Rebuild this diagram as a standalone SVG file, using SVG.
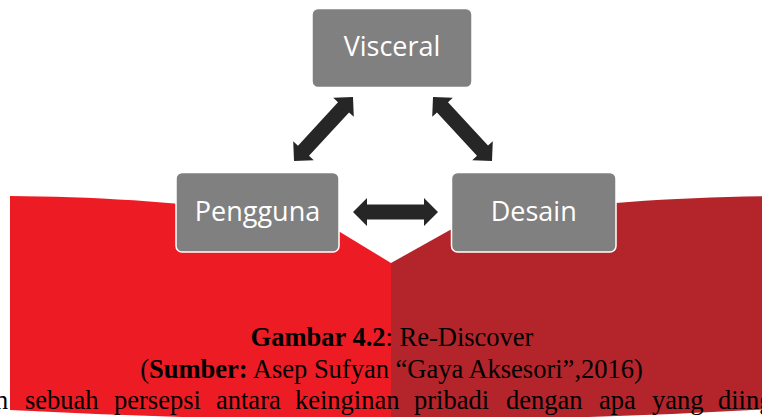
<svg xmlns="http://www.w3.org/2000/svg" width="762" height="417" viewBox="0 0 762 417">
<style>
.node rect{fill:#808080;stroke:#ffffff;stroke-width:1.5}
.node text{font-family:"Open Sans","Noto Sans",sans-serif;font-size:27px;fill:#ffffff;text-anchor:middle}
.arrow{fill:#262626}
.cap{font-family:"Liberation Serif","Times New Roman",serif;font-size:26.5px;fill:#000000}
.b{font-weight:bold}
</style>
<rect x="0" y="0" width="762" height="417" fill="#ffffff"/>
<g id="book">
<path d="M10,196 C120,197 250,205 340,232 L391,263 L391,420 Q200,420 10,410 Z" fill="#ED1C24"/>
<path d="M391,263 L450,230 C540,205 650,198 770,196 L770,409 Q580,420 391,420 Z" fill="#B4242B"/>
</g>
<g id="connectors">
<polygon class="arrow" transform="translate(353,212)" points="0,0 14,-14 14,-7.5 71,-7.5 71,-14 85,0 71,14 71,7.5 14,7.5 14,14"/>
<polygon class="arrow" transform="translate(294,161) rotate(-47.3)" points="0,0 14,-14 14,-7.5 73,-7.5 73,-14 87,0 73,14 73,7.5 14,7.5 14,14"/>
<polygon class="arrow" transform="translate(433,97) rotate(47.3)" points="0,0 14,-14 14,-7.5 73,-7.5 73,-14 87,0 73,14 73,7.5 14,7.5 14,14"/>
</g>
<g id="visceral" class="node">
<rect x="312" y="8.5" width="160" height="79" rx="6"/>
<text x="392" y="56">Visceral</text>
</g>
<g id="pengguna" class="node">
<rect x="176" y="172.5" width="163" height="79.5" rx="6"/>
<text x="257.5" y="221">Pengguna</text>
</g>
<g id="desain" class="node">
<rect x="451.5" y="172.5" width="164.5" height="79.5" rx="6"/>
<text x="533.7" y="221">Desain</text>
</g>
<g id="caption">
<text class="cap" x="392" y="345.5" text-anchor="middle"><tspan class="b">Gambar 4.2</tspan>: Re-Discover</text>
<text class="cap" x="391.5" y="377.5" text-anchor="middle">(<tspan class="b">Sumber:</tspan> Asep Sufyan “Gaya Aksesori”,2016)</text>
<text class="cap" y="408.5"><tspan x="-5">n</tspan><tspan x="25">sebuah</tspan><tspan x="114">persepsi</tspan><tspan x="216">antara</tspan><tspan x="295">keinginan</tspan><tspan x="414">pribadi</tspan><tspan x="506">dengan</tspan><tspan x="599">apa</tspan><tspan x="652">yang</tspan><tspan x="718">diing</tspan></text>
</g>
</svg>
